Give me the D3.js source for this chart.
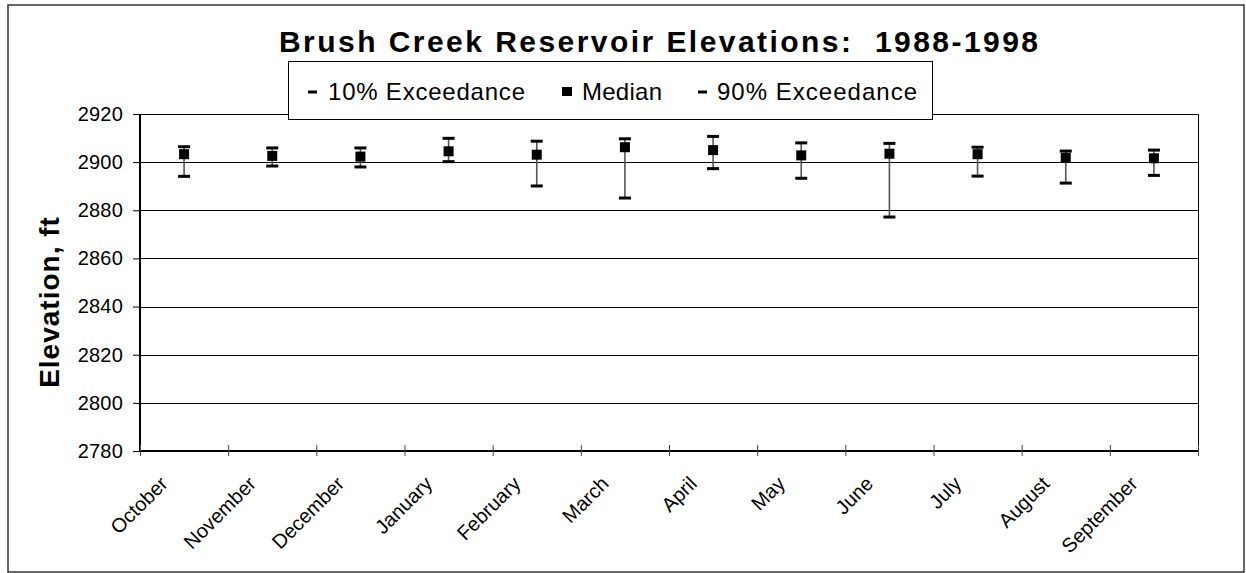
<!DOCTYPE html>
<html>
<head>
<meta charset="utf-8">
<script src="https://cdn.jsdelivr.net/npm/d3@7"></script>
<style>
  body { margin: 0; background: #fff; }
  svg { display: block; font-family: 'Liberation Sans', Arial, sans-serif; }
</style>
</head>
<body>
<svg width="1246" height="573"></svg>
<script>
// months of the water year
const months = ['October', 'November', 'December', 'January', 'February', 'March',
  'April', 'May', 'June', 'July', 'August', 'September']
// elevations, ft
const exceed10 = [2906.4, 2905.9, 2905.9, 2909.9, 2908.7, 2909.7, 2910.7, 2908.0, 2907.8, 2906.2, 2904.6, 2905.0]
const median = [2903.3, 2902.6, 2902.3, 2904.5, 2903.1, 2906.2, 2905.0, 2902.8, 2903.5, 2903.3, 2901.8, 2901.6]
const exceed90 = [2894.1, 2898.4, 2898.0, 2900.2, 2890.1, 2885.1, 2897.3, 2893.3, 2877.2, 2894.2, 2891.3, 2894.5]
const yTicks = [2780, 2800, 2820, 2840, 2860, 2880, 2900, 2920]
const legendLabels = ['10% Exceedance', 'Median', '90% Exceedance']

const svg = d3.select('svg')
const plotLeft = 140
const plotRight = 1198
const plotTop = 114
const plotBottom = 451

// outer frame
svg.append('rect')
  .attr('x', 8).attr('y', 5)
  .attr('width', 1236).attr('height', 567)
  .attr('fill', '#fff')
  .attr('stroke', '#333')
  .attr('stroke-width', 1.5)

const x = d3.scaleBand().domain(months).range([plotLeft, plotRight])
const xEdges = d3.scaleLinear().domain([0, months.length]).range([plotLeft, plotRight])
const y = d3.scaleLinear().domain([2780, 2920]).range([plotBottom, plotTop])

// gridlines
svg.append('g')
  .attr('transform', `translate(${plotLeft},0)`)
  .call(d3.axisLeft(y).tickValues(yTicks).tickSize(-(plotRight - plotLeft)).tickFormat(''))
  .call(g => g.select('.domain').remove())
  .selectAll('line')
  .attr('stroke', '#000')
  .attr('shape-rendering', 'crispEdges')

// plot frame top and right
svg.append('path')
  .attr('d', `M${plotLeft},${plotTop + 0.5}H${plotRight + 0.5}V${plotBottom}`)
  .attr('fill', 'none')
  .attr('stroke', '#000')

// y axis
const yAxis = svg.append('g')
  .attr('transform', `translate(${plotLeft},0)`)
  .call(d3.axisLeft(y).tickValues(yTicks).tickSize(7).tickPadding(10).tickFormat(d3.format('d')))
yAxis.select('.domain').attr('stroke-width', 2).attr('d', `M0,${plotTop}V${plotBottom + 1}`)
yAxis.selectAll('.tick line').attr('stroke', '#000')
yAxis.selectAll('text')
  .attr('font-size', 20)
  .attr('letter-spacing', 0.2)
  .attr('fill', '#000')
  .attr('font-family', "'Liberation Sans', Arial, sans-serif")

// x axis
const xAxis = svg.append('g')
  .attr('transform', `translate(0,${plotBottom})`)
  .call(d3.axisBottom(xEdges).tickValues(d3.range(months.length + 1)).tickSize(5).tickFormat(''))
xAxis.select('.domain').attr('stroke-width', 2).attr('d', `M${plotLeft},0H${plotRight + 1}`)
xAxis.selectAll('.tick line').attr('y1', -6).attr('y2', 5).attr('stroke', '#444')

svg.append('g')
  .selectAll('text')
  .data(months)
  .enter()
  .append('text')
  .attr('transform', d => `translate(${x(d) + x.bandwidth() / 2 - 15},${plotBottom + 34}) rotate(-45)`)
  .attr('text-anchor', 'end')
  .attr('font-size', 20)
  .text(d => d)

// error bars
const bars = svg.append('g')
  .selectAll('g')
  .data(months)
  .enter()
  .append('g')
  .attr('transform', d => `translate(${x(d) + x.bandwidth() / 2},0)`)

bars.append('line')
  .attr('y1', (d, i) => y(exceed10[i]))
  .attr('y2', (d, i) => y(exceed90[i]))
  .attr('stroke', '#555')
  .attr('stroke-width', 1.6)

bars.append('rect')
  .attr('x', -6).attr('width', 12)
  .attr('y', (d, i) => y(exceed10[i]) - 1.5).attr('height', 3)
  .attr('fill', '#000')

bars.append('rect')
  .attr('x', -6).attr('width', 12)
  .attr('y', (d, i) => y(exceed90[i]) - 1.5).attr('height', 3)
  .attr('fill', '#000')

bars.append('rect')
  .attr('x', -5).attr('width', 10)
  .attr('y', (d, i) => y(median[i]) - 5).attr('height', 10)
  .attr('fill', '#000')

// title
svg.append('text')
  .attr('x', 279).attr('y', 52)
  .attr('font-size', 30)
  .attr('font-weight', 'bold')
  .attr('textLength', 759)
  .attr('lengthAdjust', 'spacing')
  .style('white-space', 'pre')
  .text('Brush Creek Reservoir Elevations:  1988-1998')

// y title
svg.append('text')
  .attr('transform', 'translate(59,302) rotate(-90)')
  .attr('text-anchor', 'middle')
  .attr('font-size', 28)
  .attr('font-weight', 'bold')
  .attr('letter-spacing', 1)
  .text('Elevation, ft')

// legend
const legend = svg.append('g')
legend.append('rect')
  .attr('x', 288.5).attr('y', 61.5)
  .attr('width', 644).attr('height', 58)
  .attr('fill', '#fff')
  .attr('stroke', '#000')

const legendX = [308, 562, 698]
const textX = [328, 582, 717]
const textLen = [197, 80, 200]
legendLabels.forEach((label, i) => {
  if (i === 1) {
    legend.append('rect')
      .attr('x', legendX[i]).attr('y', 87).attr('width', 10).attr('height', 9)
      .attr('fill', '#000')
  } else {
    legend.append('rect')
      .attr('x', legendX[i]).attr('y', 90.5).attr('width', 9).attr('height', 3)
      .attr('fill', '#000')
  }
  legend.append('text')
    .attr('x', textX[i]).attr('y', 100)
    .attr('font-size', 24)
    .attr('textLength', textLen[i])
    .attr('lengthAdjust', 'spacing')
    .text(label)
})
</script>
</body>
</html>
